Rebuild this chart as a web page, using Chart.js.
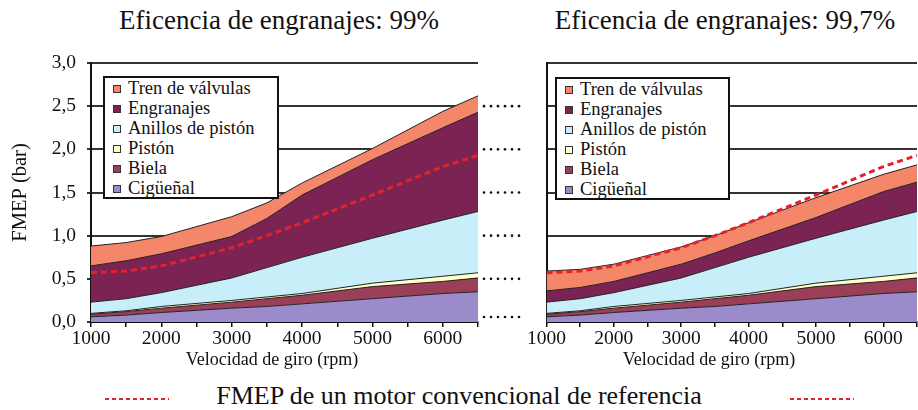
<!DOCTYPE html>
<html>
<head>
<meta charset="utf-8">
<script src="https://cdn.jsdelivr.net/npm/chart.js@4.4.0/dist/chart.umd.min.js"></script>
<style>
  body { margin: 0; background: #fff; font-family: 'Liberation Serif', 'Times New Roman', serif; color: #111; }
  #wrap { position: relative; width: 918px; height: 410px; overflow: hidden; }
  canvas { position: absolute; }
  .title { position: absolute; top: 5px; font-size: 27px; white-space: nowrap; transform: translateX(-50%); }
  .xtitle { position: absolute; top: 349px; font-size: 18px; white-space: nowrap; transform: translateX(-50%); }
  .legend { position: absolute; box-sizing: border-box; border: 2px solid #111; background: #fff; }
  .legend div { height: 20px; line-height: 20px; font-size: 18.5px; white-space: nowrap; padding-left: 23px; position: relative; }
  .legend span { position: absolute; left: 8px; top: 7px; width: 6px; height: 6px; border: 1px solid #333; }
  .reflegend { position: absolute; top: 381px; left: 0; width: 918px; text-align: center; font-size: 26px; }
  .reddash { position: absolute; top: 398px; height: 2px; background: repeating-linear-gradient(90deg, #e5222b 0 4px, transparent 4px 7px); }
</style>
</head>
<body>
<div id="wrap">
  <canvas id="left" width="527" height="335" style="left:0;top:40px"></canvas>
  <canvas id="right" width="391" height="335" style="left:527px;top:40px"></canvas>

  <div class="title" style="left:279px">Eficencia de engranajes: 99%</div>
  <div class="title" style="left:725px">Eficencia de engranajes: 99,7%</div>
  <div class="xtitle" style="left:272px">Velocidad de giro (rpm)</div>
  <div class="xtitle" style="left:709px">Velocidad de giro (rpm)</div>

  <div class="legend" id="legLeft" style="left:103px;top:76px;width:176px;height:123px"></div>
  <div class="legend" id="legRight" style="left:555px;top:77px;width:175px;height:123px"></div>

  <div class="reddash" style="left:105px;width:64px"></div>
  <div class="reflegend">FMEP de un motor convencional de referencia</div>
  <div class="reddash" style="left:790px;width:64px"></div>
</div>
<script>
// rpm sample points
const rpm = [1000, 1500, 2000, 3000, 3500, 4000, 5000, 6000, 6500];

// FMEP (bar), upper edge of each band (cumulative)
const ciguenal      = [0.06, 0.08, 0.11, 0.16, 0.18, 0.21, 0.27, 0.33, 0.35];
const biela         = [0.09, 0.12, 0.16, 0.23, 0.27, 0.31, 0.41, 0.47, 0.51];
const piston        = [0.10, 0.13, 0.18, 0.25, 0.29, 0.33, 0.45, 0.53, 0.57];
const anillos       = [0.23, 0.27, 0.34, 0.51, 0.63, 0.75, 0.97, 1.18, 1.28];
const engranajes99  = [0.65, 0.71, 0.79, 0.99, 1.20, 1.47, 1.88, 2.25, 2.43];
const tren99        = [0.88, 0.92, 0.99, 1.22, 1.38, 1.61, 2.01, 2.44, 2.62];
const engranajes997 = [0.36, 0.40, 0.47, 0.67, 0.80, 0.94, 1.21, 1.51, 1.62];
const tren997       = [0.59, 0.61, 0.67, 0.87, 1.00, 1.15, 1.44, 1.71, 1.82];
const referencia    = [0.57, 0.59, 0.65, 0.86, 1.00, 1.15, 1.47, 1.80, 1.93];

const yTicks = [0, 0.5, 1.0, 1.5, 2.0, 2.5, 3.0];

const bands = [
    { name: 'Cigüeñal', color: '#9b8bcb' },
    { name: 'Biela', color: '#9b3f58' },
    { name: 'Pistón', color: '#ffffc8' },
    { name: 'Anillos de pistón', color: '#c8eef9' },
    { name: 'Engranajes', color: '#7b2353' },
    { name: 'Tren de válvulas', color: '#f4876a' }
];

const serif = "'Liberation Serif', 'Times New Roman', serif";

// legends (top item = last band)
['legLeft', 'legRight'].forEach(id => {
    const el = document.getElementById(id);
    bands.slice().reverse().forEach(b => {
        el.innerHTML += `<div><span style="background:${b.color}"></span>${b.name}</div>`;
    });
});

function pts(arr) {
    return rpm.map((x, i) => ({ x: x, y: arr[i] }));
}

function makeDatasets(engr, tren) {
    const tops = [ciguenal, biela, piston, anillos, engr, tren];
    const ds = tops.map((arr, i) => ({
        label: bands[i].name,
        data: pts(arr),
        borderColor: '#222',
        borderWidth: 1,
        backgroundColor: bands[i].color,
        fill: i === 0 ? 'origin' : '-1',
        pointRadius: 0,
        tension: 0
    }));
    ds.push({
        label: 'Referencia',
        data: pts(referencia),
        borderColor: '#e5222b',
        borderWidth: 3,
        borderDash: [6, 4],
        fill: false,
        pointRadius: 0,
        order: -1,
        tension: 0
    });
    return ds;
}

// dotted connectors between the two panels
const connectors = {
    id: 'connectors',
    afterDraw(chart) {
        const ctx = chart.ctx;
        const y = chart.scales.y;
        ctx.save();
        ctx.fillStyle = '#111';
        yTicks.slice(0, 6).forEach(v => {
            const py = Math.min(y.getPixelForValue(v), y.getPixelForValue(0) - 5);
            for (let px = 484; px <= 524; px += 7) {
                ctx.beginPath();
                ctx.arc(px, py, 1.3, 0, Math.PI * 2);
                ctx.fill();
            }
        });
        ctx.restore();
    }
};

function makeChart(id, engr, tren, showY) {
    return new Chart(document.getElementById(id), {
        type: 'line',
        data: { datasets: makeDatasets(engr, tren) },
        plugins: showY ? [connectors] : [],
        options: {
            responsive: false,
            animation: false,
            layout: { padding: { top: 23, right: showY ? 49 : 1, left: 0, bottom: 0 } },
            plugins: { legend: { display: false }, tooltip: { enabled: false } },
            scales: {
                x: {
                    type: 'linear',
                    min: 1000,
                    max: 6500,
                    afterFit: s => { s.height = 53; },
                    grid: { drawOnChartArea: false, drawTicks: true, tickLength: 5, color: '#111', lineWidth: 1.5 },
                    border: { color: '#111', width: 2 },
                    ticks: {
                        stepSize: 500,
                        autoSkip: false,
                        maxRotation: 0,
                        padding: 0,
                        color: '#111',
                        font: { family: serif, size: 19.5 },
                        callback: v => (v % 1000 === 0 ? v : '')
                    }
                },
                y: {
                    min: 0,
                    max: 3,
                    afterFit: s => { s.width = showY ? 91 : 2; },
                    afterBuildTicks: s => { s.ticks = yTicks.map(v => ({ value: v })); },
                    grid: { color: '#333', lineWidth: 2, drawTicks: showY, tickLength: 4 },
                    border: { color: '#111', width: 2 },
                    title: {
                        display: showY,
                        text: 'FMEP (bar)',
                        color: '#111',
                        font: { family: serif, size: 20.5 },
                        padding: { top: 8, bottom: 0 }
                    },
                    ticks: {
                        display: showY,
                        padding: 11,
                        color: '#111',
                        font: { family: serif, size: 19.5 },
                        callback: v => v.toFixed(1).replace('.', ',')
                    }
                }
            }
        }
    });
}

makeChart('left', engranajes99, tren99, true);
makeChart('right', engranajes997, tren997, false);
</script>
</body>
</html>
